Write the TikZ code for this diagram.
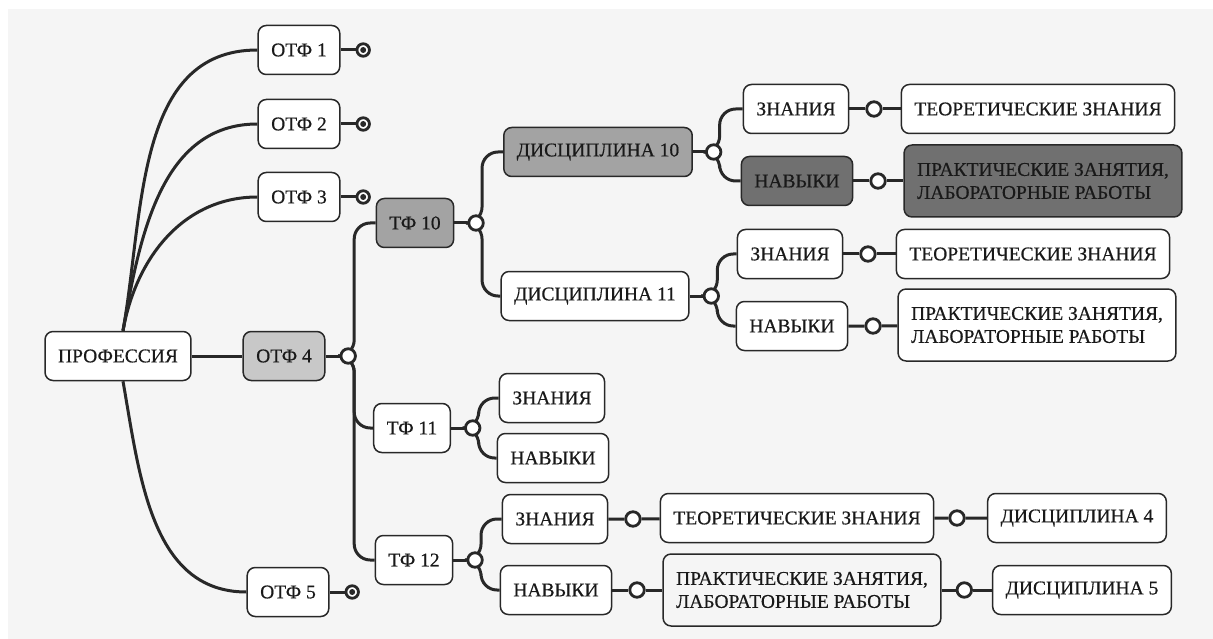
\documentclass[tikz,border=0pt]{standalone}
\usepackage{fontspec}
\setmainfont{Liberation Serif}
\newfontfamily\cardfont{Liberation Serif}[FakeBold=0.5]
\usetikzlibrary{
    positioning,
    backgrounds
    }

\definecolor{paper}{RGB}{245,245,245}
\definecolor{ink}{RGB}{40,40,40}
\definecolor{light}{RGB}{200,200,200}
\definecolor{mid}{RGB}{163,163,163}
\definecolor{dark}{RGB}{112,112,112}

\begin{document}
\begin{tikzpicture}[x=1pt, y=-1pt]
\tikzset{card/.style =
        {
            rectangle,
            rounded corners=8pt,
            draw=ink,
            line width=1.5pt,
            fill=white,
            minimum height=49pt,
            inner xsep=13pt,
            font=\cardfont\fontsize{19.5}{23}\selectfont,
            text=black!90
        }
}

\tikzset{wide card/.style =
        {
            card,
            align=left,
            minimum height=72pt
        }
}

\tikzset{hub/.style =
        {
            shape=circle,
            draw=ink,
            line width=2.8pt,
            fill=white,
            minimum size=14.5pt,
            inner sep=0pt
        }
}

\tikzset{leaf/.style =
        {
            hub,
            minimum size=12.5pt,
            path picture={\fill[ink] (path picture bounding box.center) circle [radius=3pt];}
        }
}

\tikzset{link/.style = { draw=ink, line width=3pt } }
\tikzset{branch/.style = { link, rounded corners=16pt } }
\tikzset{rise/.style = { out=80, in=180 } }
\tikzset{fall/.style = { out=-80, in=180 } }

		\useasboundingbox (0,0) rectangle (1213,639);

		% profession and its functions
		\node[card] (prof) at (118,356) {ПРОФЕССИЯ};
		\node[card, fill=light] (otf4) at (284,356) {ОТФ 4};
		\node[hub, right=14pt of otf4] (otf4-hub) {};
		\node[card] (otf5) at (288,592) {ОТФ 5};
		\node[leaf, right=15pt of otf5] (otf5-pin) {};

		\foreach \n / \y in {1/50, 2/124, 3/197}
		{
			\node[card] (otf\n) at (299,\y) {ОТФ \n};
			\node[leaf, right=15pt of otf\n] (otf\n-pin) {};
		}

		% labour functions
		\node[card, fill=mid] (tf10) at (415,223) {ТФ 10};
		\node[hub, right=13pt of tf10] (tf10-hub) {};
		\node[card] (tf11) at (412,428) {ТФ 11};
		\node[hub, right=13pt of tf11] (tf11-hub) {};
		\node[card] (tf12) at (414,560) {ТФ 12};
		\node[hub, right=13pt of tf12] (tf12-hub) {};

		% disciplines of tf10
		\node[card, fill=mid] (d10) at (598,152) {ДИСЦИПЛИНА 10};
		\node[hub, right=12pt of d10] (d10-hub) {};
		\node[card] (d11) at (595,296) {ДИСЦИПЛИНА 11};
		\node[hub, right=13pt of d11] (d11-hub) {};

		\node[card] (d10-know) at (796,109) {ЗНАНИЯ};
		\node[hub, right=16pt of d10-know] (d10-know-pin) {};
		\node[card] (d10-theory) at (1038,109) {ТЕОРЕТИЧЕСКИЕ ЗНАНИЯ};
		\node[card, fill=dark] (d10-skill) at (797,181) {НАВЫКИ};
		\node[hub, right=16pt of d10-skill] (d10-skill-pin) {};
		\node[wide card, fill=dark] (d10-practice) at (1043,181) {ПРАКТИЧЕСКИЕ ЗАНЯТИЯ,\\ЛАБОРАТОРНЫЕ РАБОТЫ};

		\node[card] (d11-know) at (790,254) {ЗНАНИЯ};
		\node[hub, right=16pt of d11-know] (d11-know-pin) {};
		\node[card] (d11-theory) at (1033,254) {ТЕОРЕТИЧЕСКИЕ ЗНАНИЯ};
		\node[card] (d11-skill) at (792,326) {НАВЫКИ};
		\node[hub, right=16pt of d11-skill] (d11-skill-pin) {};
		\node[wide card] (d11-practice) at (1037,325) {ПРАКТИЧЕСКИЕ ЗАНЯТИЯ,\\ЛАБОРАТОРНЫЕ РАБОТЫ};

		% tf11
		\node[card] (tf11-know) at (552,398) {ЗНАНИЯ};
		\node[card] (tf11-skill) at (553,458) {НАВЫКИ};

		% tf12
		\node[card] (tf12-know) at (555,519) {ЗНАНИЯ};
		\node[hub, right=16pt of tf12-know] (tf12-know-pin) {};
		\node[card] (tf12-theory) at (797,518) {ТЕОРЕТИЧЕСКИЕ ЗНАНИЯ};
		\node[hub, right=14pt of tf12-theory] (tf12-theory-pin) {};
		\node[card] (disc4) at (1077,518) {ДИСЦИПЛИНА 4};
		\node[card] (tf12-skill) at (556,590) {НАВЫКИ};
		\node[hub, right=16pt of tf12-skill] (tf12-skill-pin) {};
		\node[wide card, fill=paper] (tf12-practice) at (802,590) {ПРАКТИЧЕСКИЕ ЗАНЯТИЯ,\\ЛАБОРАТОРНЫЕ РАБОТЫ};
		\node[hub, right=14pt of tf12-practice] (tf12-practice-pin) {};
		\node[card] (disc5) at (1082,590) {ДИСЦИПЛИНА 5};

		\begin{scope}[on background layer]
			\fill[white] (0,0) rectangle (1213,639);
			\fill[paper] (8,9) rectangle (1213,639);

			\foreach \n in {1,2,3}
			{
				\draw[link] ([xshift=5pt]prof.north) to[rise] (otf\n.west);
				\draw[link] (otf\n) -- (otf\n-pin);
			}
			\draw[link] ([xshift=5pt]prof.south) to[fall] (otf5.west);
			\draw[link] (otf5) -- (otf5-pin);
			\draw[link] (prof) -- (otf4) -- (otf4-hub);

			% forks: from each hub up and down to the children
			\foreach \hub / \child in {otf4-hub/tf10, otf4-hub/tf11, otf4-hub/tf12,
				tf10-hub/d10, tf10-hub/d11,
				d10-hub/d10-know, d10-hub/d10-skill,
				d11-hub/d11-know, d11-hub/d11-skill,
				tf11-hub/tf11-know, tf11-hub/tf11-skill,
				tf12-hub/tf12-know, tf12-hub/tf12-skill}
			\draw[branch] (\hub.center) -- ++(6,0) |- (\child.west);

			\draw[link] (tf10) -- (tf10-hub);
			\draw[link] (tf11) -- (tf11-hub);
			\draw[link] (tf12) -- (tf12-hub);
			\draw[link] (d10) -- (d10-hub);
			\draw[link] (d11) -- (d11-hub);

			\draw[link] (d10-know) -- (d10-know-pin) -- (d10-theory);
			\draw[link] (d10-skill) -- (d10-skill-pin) -- (d10-practice);
			\draw[link] (d11-know) -- (d11-know-pin) -- (d11-theory);
			\draw[link] (d11-skill) -- (d11-skill-pin) -- (d11-practice);
			\draw[link] (tf12-know) -- (tf12-know-pin) -- (tf12-theory) -- (tf12-theory-pin) -- (disc4);
			\draw[link] (tf12-skill) -- (tf12-skill-pin) -- (tf12-practice) -- (tf12-practice-pin) -- (disc5);
		\end{scope}

	\end{tikzpicture}
\end{document}
